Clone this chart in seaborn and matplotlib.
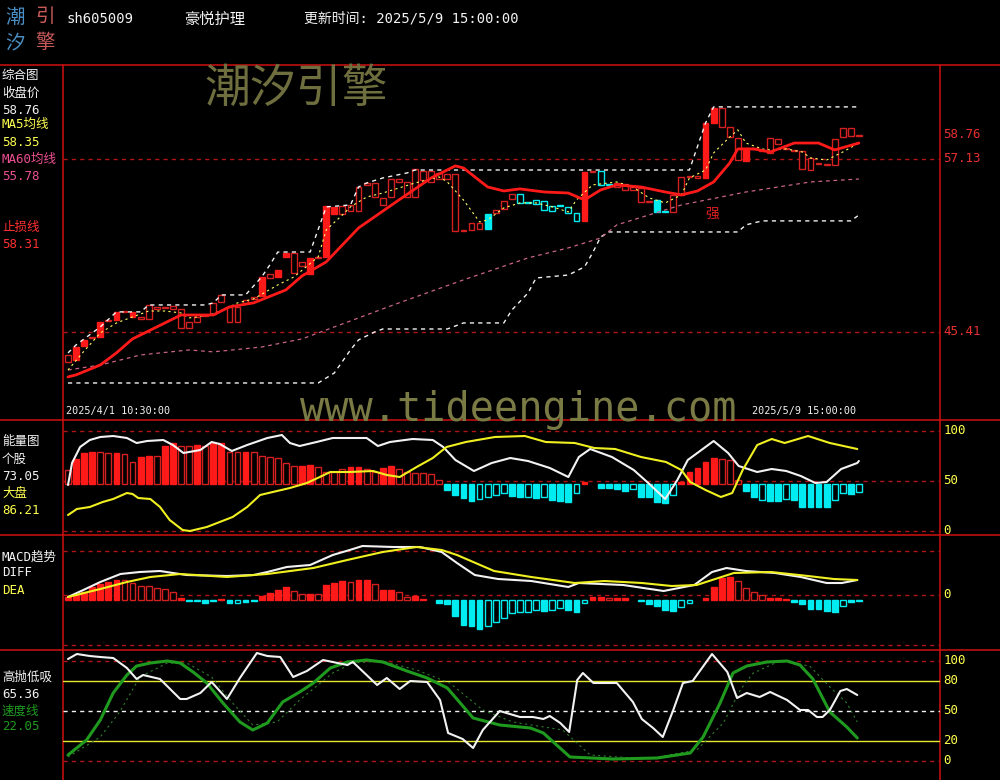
import numpy as np
import matplotlib
matplotlib.use("Agg")
import matplotlib.pyplot as plt
import seaborn as sns

# 1. DATA  (60-minute bars, 2025/4/1 10:30 -> 2025/5/9 15:00)
stock_code = "sh605009"
stock_name = "豪悦护理"
update_time = "更新时间: 2025/5/9 15:00:00"
first_bar = "2025/4/1 10:30:00"
last_bar = "2025/5/9 15:00:00"

# candle bodies (low / high of the body); style: r red hollow, R red filled, c cyan hollow, C cyan filled
body_lo = [43.37, 43.50, 44.45, 44.99, 45.06, 46.15, 46.21, 46.76, 46.42, 46.28,
           46.28, 46.96, 47.03, 46.96, 45.67, 45.67, 46.08, 46.49, 46.62, 47.43,
           46.08, 46.08, 47.37, 47.64, 47.84, 49.06, 49.13, 50.49, 49.40, 49.88,
           49.33, 50.42, 50.49, 53.40, 53.40, 53.60, 53.60, 55.37, 54.55, 54.01,
           54.55, 55.57, 54.55, 54.55, 55.71, 55.57, 55.77, 55.77, 52.25, 52.25,
           52.32, 52.38, 52.38, 53.47, 53.74, 54.42, 54.15, 54.15, 54.08, 53.67,
           53.60, 53.94, 53.47, 52.93, 52.93, 56.25, 55.37, 55.37, 55.23, 55.03,
           55.03, 54.21, 54.21, 53.54, 53.54, 53.54, 54.69, 55.91, 55.84, 55.84,
           59.57, 59.30, 58.62, 57.06, 56.99, 57.81, 57.67, 57.54, 58.15, 57.81,
           57.67, 56.45, 56.38, 56.79, 56.72, 56.72, 58.62, 58.69, 58.69]
body_hi = [43.84, 44.38, 44.86, 45.06, 46.08, 46.21, 46.76, 46.82, 46.76, 46.42,
           47.23, 47.10, 47.10, 47.16, 46.96, 46.08, 46.42, 46.55, 47.37, 47.91,
           47.10, 47.10, 47.57, 47.77, 49.13, 49.33, 49.60, 50.76, 50.76, 50.15,
           50.42, 50.49, 53.94, 53.88, 53.94, 54.01, 55.23, 55.50, 55.50, 54.49,
           55.77, 55.77, 55.57, 56.45, 56.32, 56.32, 56.18, 56.11, 56.11, 52.32,
           52.79, 52.79, 53.40, 53.67, 54.28, 54.76, 54.76, 54.21, 54.35, 54.28,
           53.94, 54.01, 53.88, 53.47, 56.25, 56.32, 56.32, 55.43, 55.50, 55.43,
           55.23, 55.16, 54.28, 54.35, 53.60, 54.69, 55.91, 55.98, 55.98, 59.57,
           60.59, 60.59, 59.30, 58.55, 57.88, 57.88, 57.74, 58.55, 58.49, 57.88,
           57.74, 57.67, 57.20, 56.86, 56.79, 58.49, 59.23, 59.23, 58.76]
body_style = ("rRRrRrRrRr" "rrrrrrrrrr" "rrrrRrRRrr" "RrRRrrrrrr" "rrrrrrrrrr"
              "rrCrrrcccc" "ccccRrccrr" "rrrCcrrrrR" "RrrrRrrrrr" "rrrrrrrrr")

# MA5 (yellow dotted)
ma5_idx = [0, 2, 4, 6, 8, 10, 12, 14, 15, 16, 18, 20, 21, 23, 26, 28, 31, 32, 34, 35,
           37, 39, 41, 43, 45, 46, 47, 49, 51, 52, 54, 56, 58, 60, 62, 63, 65, 68, 70, 72,
           74, 76, 77, 79, 80, 82, 83, 84, 86, 87, 89, 91, 92, 94, 96, 98]
ma5_val = [42.82, 44.11, 45.33, 46.01, 46.42, 46.82, 46.82, 46.69, 46.35, 46.42,
           46.62, 47.10, 47.37, 47.64, 48.59, 49.13, 50.49, 52.32, 53.33, 53.88,
           54.55, 54.82, 55.16, 55.50, 55.77, 55.91, 55.57, 54.35, 52.86, 52.99,
           53.81, 54.15, 54.15, 53.88, 53.54, 54.35, 55.37, 55.57, 55.23, 54.49,
           54.15, 54.69, 55.84, 56.38, 57.54, 58.62, 59.10, 58.21, 57.81, 57.74,
           57.81, 57.60, 57.20, 57.06, 57.60, 58.21]
# MA60 (pink dashed)
ma60_idx = [0, 4, 9, 15, 18, 24, 29, 33, 41, 49, 57, 62, 66, 68, 76, 84, 92, 98]
ma60_val = [42.82, 43.16, 43.84, 44.18, 44.05, 44.38, 44.93, 45.74, 47.37, 48.93,
            50.42, 51.10, 51.77, 52.66, 54.01, 54.89, 55.57, 55.77]
# stop-loss line (thick red)
stop_idx = [0, 1, 4, 6, 8, 11, 14, 18, 20, 23, 27, 29, 32, 36, 41, 45, 48, 49, 52, 54,
            56, 59, 62, 64, 66, 68, 71, 74, 76, 78, 80, 82, 83, 85, 87, 90, 93, 95, 98]
stop_val = [42.35, 42.49, 43.16, 43.98, 44.93, 45.74, 46.55, 46.55, 47.10, 47.37,
            48.25, 49.20, 50.15, 52.45, 54.35, 55.84, 56.66, 56.52, 55.23, 54.96,
            55.10, 54.89, 54.82, 54.35, 55.03, 55.37, 55.23, 54.89, 54.69, 54.96,
            55.57, 56.86, 57.81, 57.81, 57.60, 58.21, 58.21, 57.74, 58.21]
# channel bands (white dashed steps)
upper_idx = [0, 1, 4, 6, 9, 10, 17, 18, 19, 22, 24, 25, 26, 30, 32, 35, 36, 37, 39, 42,
             43, 77, 79, 80, 98]
upper_val = [43.98, 44.52, 45.74, 46.76, 46.76, 47.23, 47.23, 47.37, 47.91, 47.91,
             49.13, 49.94, 50.82, 50.82, 53.88, 54.01, 55.23, 55.50, 55.84, 56.18,
             56.38, 56.38, 59.57, 60.66, 60.66]
lower_idx = [0, 31, 33, 35, 36, 38, 39, 47, 49, 54, 55, 57, 58, 62, 64, 65, 66, 67, 83,
             84, 86, 97, 98]
lower_val = [41.94, 41.94, 42.62, 44.18, 44.86, 45.40, 45.60, 45.60, 46.01, 46.01,
             46.89, 48.04, 49.06, 49.26, 49.81, 50.76, 51.84, 52.18, 52.18, 52.66,
             52.93, 52.93, 53.33]
price_marks = [58.76, 57.13, 45.41]

# energy panel
energy_bar = [61, 72, 78, 79, 79, 78, 78, 77, 69, 74,
              75, 75, 85, 88, 85, 85, 86, 85, 88, 88,
              79, 79, 79, 79, 75, 74, 73, 68, 65, 65,
              66, 64, 59, 59, 62, 64, 64, 62, 59, 63,
              65, 62, 59, 58, 58, 57, 51, 41, 36, 33,
              30, 32, 34, 36, 38, 35, 34, 34, 33, 34,
              31, 30, 29, 38, 49, 47, 43, 43, 42, 40,
              42, 34, 34, 29, 28, 36, 49, 59, 63, 69,
              73, 72, 71, 51, 40, 34, 31, 30, 30, 32,
              31, 24, 24, 24, 24, 31, 38, 37, 39]
energy_fill = [0, 1, 1, 1, 0, 0, 1, 0, 0, 1,
               1, 0, 1, 1, 0, 0, 1, 0, 1, 1,
               0, 0, 1, 0, 0, 0, 0, 0, 0, 1,
               1, 0, 0, 0, 0, 1, 1, 0, 0, 1,
               1, 0, 0, 0, 0, 0, 0, 1, 1, 1,
               1, 0, 0, 0, 0, 1, 1, 0, 1, 0,
               1, 1, 1, 0, 1, 1, 1, 1, 1, 1,
               0, 1, 1, 1, 1, 0, 1, 1, 1, 1,
               1, 0, 0, 0, 1, 1, 0, 1, 1, 0,
               1, 1, 1, 1, 1, 0, 0, 1, 0]
stock_idx = [0, 0.5, 1.5, 2.7, 4, 5.6, 7.3, 8.5, 9.8, 11.8, 13, 14.3, 16.4, 17.8, 18.8,
             20.3, 22.2, 24.7, 26.5, 27.5, 28.7, 30.8, 32.8, 37, 38.4, 39.9, 42.7, 45.2,
             46.5, 48, 50.3, 52.5, 54.8, 57, 59.7, 62, 63.3, 64.7, 67.4, 70.1, 71.9, 74,
             75.5, 76.8, 80, 81.8, 83.1, 85.4, 87.2, 89, 90.8, 92.6, 94, 95.8, 97.8, 98]
stock_val = [46, 68, 84, 91, 94, 95, 93, 88, 90, 91, 86, 78, 81, 89, 87, 80, 86, 93, 96,
             88, 85, 89, 93, 93, 85, 89, 92, 91, 84, 71, 60, 68, 73, 70, 63, 54, 74, 82,
             74, 61, 48, 32, 51, 71, 90, 78, 65, 59, 62, 60, 55, 48, 49, 62, 68, 70]
market_idx = [0, 1.1, 2.7, 4.3, 5.6, 7.3, 8, 8.7, 10.2, 11.4, 12.6, 14.2, 15.1, 17.2,
              18.8, 20.4, 22.2, 23.8, 25.9, 27.5, 29.6, 31.2, 32.5, 34.9, 37.8, 39.5,
              41.1, 43.2, 45.2, 46.9, 49.3, 52.9, 56.6, 59.2, 62.8, 65.2, 67.8, 71,
              74.1, 76, 77.1, 79, 80.9, 82.3, 83.6, 85.4, 87.2, 88.8, 91.7, 94.4, 97.8]
market_val = [16, 22, 24, 29, 32, 38, 37, 33, 32, 24, 11, 1, 0, 4, 9, 14, 24, 36, 40, 43,
              48, 54, 59, 59, 60, 56, 54, 64, 73, 84, 89, 94, 95, 89, 88, 83, 82, 74, 69,
              61, 49, 41, 34, 38, 61, 86, 92, 88, 95, 88, 82]

# MACD panel
macd_bar = [0.15, 0.25, 0.4, 0.65, 0.8, 0.9, 1.0, 1.0, 0.85, 0.7,
            0.7, 0.6, 0.55, 0.4, 0.1, -0.05, -0.05, -0.15, -0.05, 0.05,
            -0.15, -0.15, -0.1, -0.05, 0.2, 0.35, 0.5, 0.65, 0.45, 0.3,
            0.3, 0.3, 0.75, 0.85, 0.95, 0.9, 1.0, 1.0, 0.8, 0.5,
            0.5, 0.4, 0.15, 0.2, 0.05, 0, -0.15, -0.2, -0.8, -1.25,
            -1.3, -1.45, -1.3, -1.1, -0.9, -0.65, -0.6, -0.6, -0.5, -0.55,
            -0.5, -0.4, -0.5, -0.6, -0.15, 0.15, 0.15, 0.12, 0.1, 0.1,
            0, -0.05, -0.2, -0.3, -0.5, -0.55, -0.35, -0.15, 0, 0.1,
            0.65, 1.1, 1.15, 0.95, 0.6, 0.4, 0.25, 0.1, 0.1, 0.03,
            -0.1, -0.2, -0.45, -0.45, -0.55, -0.6, -0.3, -0.1, -0.05]
macd_fill = [1, 1, 1, 1, 1, 1, 1, 0, 0, 0,
             0, 0, 0, 0, 1, 1, 1, 1, 1, 1,
             1, 0, 1, 1, 1, 1, 1, 1, 0, 0,
             1, 0, 1, 1, 1, 0, 1, 1, 0, 1,
             1, 0, 0, 1, 1, 1, 1, 1, 1, 1,
             1, 1, 0, 0, 0, 0, 0, 0, 0, 1,
             0, 0, 1, 1, 0, 1, 1, 0, 1, 1,
             1, 1, 1, 1, 1, 1, 0, 0, 1, 1,
             1, 1, 1, 0, 0, 0, 0, 1, 1, 1,
             1, 1, 1, 1, 1, 1, 0, 1, 1]
diff_idx = [0, 1.9, 4, 6.5, 8.9, 11.4, 13, 14.7, 19.7, 23, 24.7, 27.1, 30, 32.8, 34.9,
            36.5, 40.3, 43.6, 46.3, 48.2, 50.4, 53.3, 57.4, 62, 63.3, 68.8, 73.8, 77.6,
            79.8, 81.6, 84, 87.6, 90.8, 94, 95.9, 97.8]
diff_val = [-0.1, 0.25, 0.65, 1.05, 1.15, 1.2, 1.1, 1.0, 0.95, 1.0, 1.15, 1.4, 1.5, 2.0,
            2.25, 2.45, 2.4, 2.4, 2.15, 1.6, 1.0, 0.8, 0.7, 0.4, 0.6, 0.5, 0.2, 0.5, 1.15,
            1.35, 1.2, 1.1, 0.9, 0.6, 0.6, 0.75]
dea_idx = [0, 4, 7.3, 10.2, 13.9, 19.7, 24.7, 30.4, 34.6, 39, 43.2, 46.3, 48.2, 52.8,
           57.4, 62.8, 66.5, 71.1, 74.8, 77.9, 82.5, 87.1, 91.7, 94.9, 97.8]
dea_val = [-0.1, 0.3, 0.65, 0.9, 1.05, 0.9, 1.05, 1.35, 1.75, 2.15, 2.4, 2.25, 2.0, 1.2,
           0.9, 0.6, 0.7, 0.6, 0.45, 0.5, 1.1, 1.15, 0.95, 0.8, 0.75]

# high-sell / low-buy panel
swing_idx = [0, 1.1, 2.7, 4, 5.6, 7.3, 8.5, 9.3, 11.4, 13.9, 14.7, 16.4, 17.8, 19.7, 21.3,
             23.4, 24.7, 26.3, 27.9, 29.6, 31.6, 34.6, 35.3, 38.3, 39.5, 41.1, 42.4, 44.5,
             46.1, 47.1, 48.9, 50.2, 51.4, 53.5, 56, 57.6, 58.9, 59.7, 61, 62.1, 63.1,
             63.8, 65.1, 68, 70, 71.1, 72.5, 73.7, 75, 76.2, 77.4, 79.8, 81.7, 82.9,
             84.1, 85.7, 87, 89.1, 90.7, 91.7, 92.8, 93.5, 94.4, 95.7, 96.5, 97.8]
swing_val = [102, 107, 105, 104, 103, 93, 82, 86, 82, 62, 62, 68, 79, 62, 83, 108, 105,
             104, 84, 90, 101, 96, 99, 76, 83, 72, 80, 79, 61, 28, 22, 13, 31, 50, 44, 44,
             42, 45, 38, 29, 81, 88, 78, 78, 59, 42, 33, 24, 51, 78, 80, 107, 89, 63, 68,
             64, 69, 61, 51, 51, 44, 44, 51, 70, 72, 66]
speed_idx = [0, 2.3, 4, 5.6, 7.3, 8.5, 10.2, 12.3, 13.9, 15.5, 17.2, 19.2, 21.3, 22.9,
             24.7, 26.6, 28.7, 30.4, 32.5, 34.6, 37, 39, 42, 44.5, 47, 50.2, 53.5, 57.3,
             58.9, 62.2, 67.5, 73, 77.1, 78.7, 80.8, 82.4, 84.1, 86.6, 89.1, 90.7, 92.3,
             94.4, 96.5, 97.8]
speed_val = [6, 21, 41, 68, 86, 95, 98, 100, 98, 89, 78, 58, 39, 31, 38, 59, 69, 78, 93,
             99, 101, 99, 90, 83, 73, 43, 36, 33, 28, 4, 2, 3, 8, 24, 58, 88, 95, 99, 100,
             96, 82, 49, 34, 23]
slow_idx = [0, 4, 6.4, 8.9, 12.3, 14.7, 17.8, 20.4, 22.9, 25.9, 28.7, 32.8, 35.3, 39,
            43.2, 47.3, 51.4, 55.1, 61.3, 64.7, 71.7, 77.9, 81.2, 83.3, 84.9, 88.2, 91.9,
            94.4, 96.5, 97.8]
slow_val = [4, 24, 49, 84, 98, 98, 84, 58, 36, 39, 61, 88, 98, 100, 91, 78, 51, 39, 31,
            6, 2, 11, 38, 71, 88, 100, 95, 74, 58, 39]

# 2. STYLE
sns.set_theme(style="dark", rc={"figure.facecolor": "black", "axes.facecolor": "black"})
plt.rcParams["font.family"] = ["DejaVu Sans Mono", "Noto Sans CJK SC"]

RED = "#ff1a1a"
RED_EDGE = "#d42020"
CYAN = "#00ecf0"
FRAME = "#d01010"
GRID = "#b01515"
YEL = "#ffff50"
WHITE = "#f2f2f2"
PINK = "#ec4f92"
GREEN = "#1f9a1f"
DASH = (0, (3, 3))

W, H = 1000, 780
X0, X1 = 63, 940
XLIM = (-0.62, 108.05)

fig = plt.figure(figsize=(10, 7.8), dpi=100, facecolor="black")
ov = fig.add_axes([0, 0, 1, 1], zorder=0)
ov.set_xlim(0, W)
ov.set_ylim(H, 0)
ov.axis("off")


def panel(top, bottom):
    ax = fig.add_axes([X0 / W, 1 - bottom / H, (X1 - X0) / W, (bottom - top) / H], zorder=1)
    ax.axis("off")
    return ax


def line(ax, xs, ys, color, lw, ls="-"):
    sns.lineplot(x=xs, y=ys, ax=ax, color=color, linewidth=lw, linestyle=ls,
                 errorbar=None, sort=False, zorder=4)


def right_label(ax, v, text, color):
    ax.text(1.004, v, text, transform=ax.get_yaxis_transform(), color=color,
            fontsize=9, va="center", ha="left")


ax_k = panel(65, 420)
ax_e = panel(420, 535)
ax_m = panel(535, 650)
ax_s = panel(650, 780)

# 3. MAIN PANEL - candles and lines
x = np.arange(len(body_lo))
lo = np.array(body_lo)
hi = np.array(body_hi)
face = [RED if s == "R" else CYAN if s == "C" else "black" for s in body_style]
edge = [RED if s == "R" else RED_EDGE if s == "r" else CYAN for s in body_style]
ax_k.bar(x, np.maximum(hi - lo, 0.05), bottom=lo, width=0.72, color=face,
         edgecolor=edge, linewidth=1, zorder=3)
for v in price_marks[1:]:
    ax_k.axhline(v, color=GRID, lw=1, ls=DASH, zorder=1)
line(ax_k, lower_idx, lower_val, WHITE, 1.0, (0, (3, 3)))
line(ax_k, upper_idx, upper_val, WHITE, 1.0, (0, (3, 3)))
line(ax_k, ma60_idx, ma60_val, "#c8648c", 0.9, (0, (3, 3)))
line(ax_k, ma5_idx, ma5_val, "#ffff66", 0.8, (0, (2, 3)))
line(ax_k, stop_idx, stop_val, RED, 2.0)
ax_k.text(79.8, 53.4, "强", color="#e02020", fontsize=10, ha="center", va="center",
          family=["Noto Sans CJK SC"], zorder=5)
for v in price_marks:
    right_label(ax_k, v, f"{v:.2f}", "#e83030")

# 4. ENERGY PANEL
ENERGY_BASE = 47
ev = np.array(energy_bar, float) - ENERGY_BASE
ef = np.array(energy_fill)
keep = ev != 0
e_col = np.where(ev > 0, RED, CYAN)
e_face = np.where(ef == 1, e_col, "black")
e_edge = np.where(ev > 0, np.where(ef == 1, RED, RED_EDGE), CYAN)
ax_e.bar(x[keep], ev[keep], bottom=ENERGY_BASE, width=0.72, color=e_face[keep],
         edgecolor=e_edge[keep], linewidth=1, zorder=3)
for v in (100, 50, 0):
    ax_e.axhline(v, color=GRID, lw=1, ls=DASH, zorder=1)
    right_label(ax_e, v, str(v), YEL)
line(ax_e, stock_idx, stock_val, WHITE, 1.5)
line(ax_e, market_idx, market_val, "#f0f020", 1.5)

# 5. MACD PANEL
MACD_BASE = -0.25
mv = np.array(macd_bar, float)
mf = np.array(macd_fill)
keep = mv != 0
m_col = np.where(mv > 0, RED, CYAN)
m_face = np.where(mf == 1, m_col, "black")
m_edge = np.where(mv > 0, np.where(mf == 1, RED, RED_EDGE), CYAN)
ax_m.bar(x[keep], mv[keep], bottom=MACD_BASE, width=0.72, color=m_face[keep],
         edgecolor=m_edge[keep], linewidth=1, zorder=3)
for v in (2.2, 0, -2.5):
    ax_m.axhline(v, color=GRID, lw=1, ls=DASH, zorder=1)
right_label(ax_m, 0, "0", YEL)
line(ax_m, diff_idx, diff_val, WHITE, 1.5)
line(ax_m, dea_idx, dea_val, "#f0f020", 1.5)

# 6. HIGH-SELL LOW-BUY PANEL
for v in (100, 0):
    ax_s.axhline(v, color=GRID, lw=1, ls=DASH, zorder=1)
for v in (80, 20):
    ax_s.axhline(v, color="#e8e830", lw=1, zorder=1)
ax_s.axhline(50, color=WHITE, lw=1, ls=DASH, zorder=1)
for v in (100, 80, 50, 20, 0):
    right_label(ax_s, v, str(v), YEL)
line(ax_s, slow_idx, slow_val, "#2f7a2f", 0.8, (0, (2, 3)))
line(ax_s, speed_idx, speed_val, GREEN, 2.2)
line(ax_s, swing_idx, swing_val, WHITE, 1.5)

ax_k.set_ylim(39.43, 63.50)
ax_e.set_ylim(-4, 111)
ax_m.set_ylim(-2.75, 3.0)
ax_s.set_ylim(-19, 111)
for ax in (ax_k, ax_e, ax_m, ax_s):
    ax.set_xlim(*XLIM)

# 7. FRAME, HEADER, WATERMARK, LEFT LABELS
for yy in (65, 420, 535, 650):
    ov.plot([0, W], [yy, yy], color=FRAME, lw=1.1)
for xx in (X0, X1):
    ov.plot([xx, xx], [65, H], color=FRAME, lw=1.1)

cjk = ["Noto Sans CJK SC"]
for ch, cx, cy, c in (("潮", 15, 17, "#4a8fc4"), ("引", 45, 17, "#c85a5a"),
                      ("汐", 15, 43, "#4a8fc4"), ("擎", 45, 43, "#c85a5a")):
    ov.text(cx, cy, ch, color=c, fontsize=14, ha="center", va="center", family=cjk)
ov.text(67, 19, stock_code, color=WHITE, fontsize=10, va="center")
ov.text(184, 19, stock_name, color=WHITE, fontsize=11, va="center", family=cjk)
ov.text(304, 19, update_time, color=WHITE, fontsize=10, va="center")

ov.text(296, 89, "潮汐引擎", color="#6e6e3e", fontsize=33, ha="center", va="center",
        family=cjk)
ov.text(300, 421, "www.tideengine.com", color="#7a7a45", fontsize=29, ha="left",
        va="baseline", family=["DejaVu Sans Mono"])
ov.text(66, 411, first_bar, color=WHITE, fontsize=7.3, va="center")
ov.text(752, 411, last_bar, color=WHITE, fontsize=7.3, va="center")

left_labels = [
    ("综合图", 76, WHITE), ("收盘价", 93, WHITE), ("58.76", 110, WHITE),
    ("MA5均线", 124, YEL), ("58.35", 142, YEL), ("MA60均线", 159, PINK),
    ("55.78", 176, PINK), ("止损线", 227, "#ff3030"), ("58.31", 244, "#ff3030"),
    ("能量图", 442, WHITE), ("个股", 459, WHITE), ("73.05", 476, WHITE),
    ("大盘", 493, YEL), ("86.21", 510, YEL),
    ("MACD趋势", 557, WHITE), ("DIFF", 573, WHITE), ("DEA", 591, YEL),
    ("高抛低吸", 677, WHITE), ("65.36", 694, WHITE), ("速度线", 711, GREEN),
    ("22.05", 727, GREEN),
]
for text, yy, c in left_labels:
    ov.text(2, yy, text, color=c, fontsize=9, va="center")

plt.savefig("out.png", dpi=100, facecolor="black")
